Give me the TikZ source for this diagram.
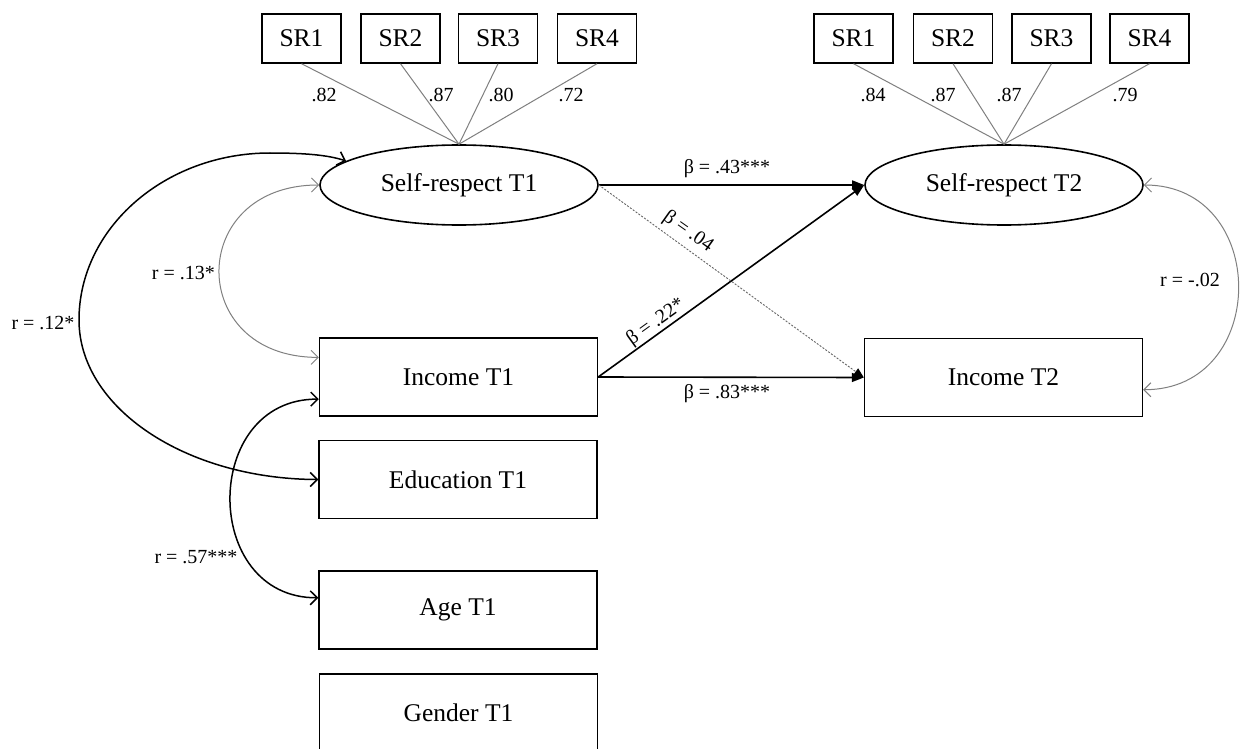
\documentclass[tikz,border=0pt]{standalone}
\usepackage{fontspec}
\setmainfont{Liberation Serif}
\usetikzlibrary{arrows.meta,shapes.geometric}
\begin{document}
\begin{tikzpicture}[x=1pt,y=-1pt,
  box/.style={draw, line width=1.4pt, rectangle, inner sep=0pt, font=\fontsize{25.5}{30}\selectfont},
  srbox/.style={box, minimum width=79pt, minimum height=49pt},
  bigbox/.style={box, minimum width=278pt, minimum height=78pt},
  latent/.style={draw, ellipse, line width=1.6pt, inner sep=0pt, minimum width=278pt, minimum height=80pt, font=\fontsize{25.5}{30}\selectfont},
  lbl/.style={font=\fontsize{20}{24}\selectfont, inner sep=1pt},
  load/.style={draw=black!50, line width=1pt},
  reg/.style={line width=1.6pt, -{Triangle[length=12pt,width=9pt]}},
  barbs/.style={{Straight Barb[length=7pt,width=14pt]}-{Straight Barb[length=7pt,width=14pt]}},
  corr/.style={barbs, line width=1.5pt},
  corrg/.style={barbs, line width=1pt, draw=black!50},
]
\useasboundingbox (0,0) rectangle (1240,749);
\fill[white] (0,0) rectangle (1240,749);

% indicators T1
\node[srbox] (a1) at (301.5,38.5) {SR1};
\node[srbox] (a2) at (400.5,38.5) {SR2};
\node[srbox] (a3) at (498,38.5) {SR3};
\node[srbox] (a4) at (597,38.5) {SR4};
% indicators T2
\node[srbox] (b1) at (853.5,38.5) {SR1};
\node[srbox] (b2) at (953,38.5) {SR2};
\node[srbox] (b3) at (1051.5,38.5) {SR3};
\node[srbox] (b4) at (1149.5,38.5) {SR4};

% latent
\node[latent] (srt1) at (459,185) {Self-respect T1};
\node[latent] (srt2) at (1004,185) {Self-respect T2};

% observed
\node[bigbox] (inc1) at (458.5,377) {Income T1};
\node[bigbox] (edu1) at (458,479.5) {Education T1};
\node[bigbox] (age1) at (458,610) {Age T1};
\node[bigbox] (gen1) at (458.5,713) {Gender T1};
\node[bigbox] (inc2) at (1003.5,377.5) {Income T2};

% loadings
\foreach \n in {a1,a2,a3,a4} \draw[load] (\n.south) -- (srt1.north);
\foreach \n in {b1,b2,b3,b4} \draw[load] (\n.south) -- (srt2.north);
\node[lbl] (la1) at (324,95) {.82};
\node[lbl] (la2) at (441,95) {.87};
\node[lbl] (la3) at (501,95) {.80};
\node[lbl] (la4) at (571,95) {.72};
\node[lbl] (lb1) at (873,95) {.84};
\node[lbl] (lb2) at (943,95) {.87};
\node[lbl] (lb3) at (1009,95) {.87};
\node[lbl] (lb4) at (1125,95) {.79};

% regressions
\draw[reg] (srt1.east) -- (srt2.west);
\draw[reg] (inc1.east) -- (srt2.west);
\draw[line width=0.9pt, draw=black!60, dash pattern=on 2pt off 1.5pt, -{Triangle[length=10pt,width=8pt,color=black]}] (srt1.east) -- (inc2.west);
\draw[reg] (inc1.east) -- (inc2.west);
\node[lbl] (b43) at (727,169) {β = .43***};
\node[lbl] (b83) at (727,394) {β = .83***};
\node[lbl, rotate=35.7] (b22) at (656,322) {β = .22*};
\node[lbl, rotate=-35.3] (b04) at (688,232) {β = .04};

% correlations
\draw[corrg] (srt1.west) .. controls +(-133,0) and +(-133,0) .. (inc1.172);
\node[lbl, anchor=east] (r13) at (216,273) {r = .13*};

\draw[corr] (edu1.west) .. controls (186,479) and (79,408) .. (79,320)
   .. controls (79,228) and (165,153) .. (270,153)
   .. controls (305,153) and (328,155) .. (srt1.168);
\node[lbl] (r12) at (43,323) {r = .12*};

\draw[corr] (inc1.189) .. controls (201,399) and (201,598) .. (age1.175);
\node[lbl] (r57) at (196,557) {r = .57***};

\draw[corrg] (srt2.east) .. controls (1270,185) and (1270,390) .. (inc2.-5);
\node[lbl] (r02) at (1190,280) {r = -.02};
\end{tikzpicture}
\end{document}
